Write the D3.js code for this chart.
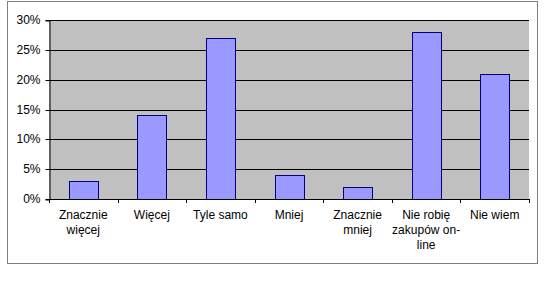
<!DOCTYPE html>
<html><head><meta charset="utf-8">
<script src="https://cdn.jsdelivr.net/npm/d3@7"></script>
<style>body{margin:0;background:#fff}svg{display:block}text{font-family:"Liberation Sans",Arial,sans-serif;font-size:12px;fill:#000}</style>
</head><body>
<script>
const categories = [["Znacznie","więcej"],["Więcej"],["Tyle samo"],["Mniej"],["Znacznie","mniej"],["Nie robię","zakupów on-","line"],["Nie wiem"]];
const values = [0.03,0.14,0.27,0.04,0.02,0.28,0.21];
const yTicks = [0,0.05,0.10,0.15,0.20,0.25,0.30];

const W=556,H=296;
const svg=d3.select("body").append("svg").attr("width",W).attr("height",H);
svg.append("rect").attr("x",7.5).attr("y",1.5).attr("width",530).attr("height",262).attr("fill","#fff").attr("stroke","#7f7f7f");

const L=49,R=529,T=20,B=199;
const x=d3.scaleBand().domain(d3.range(categories.length)).range([L,R]).paddingInner(0.58).paddingOuter(0.29);
const band=d3.scaleBand().domain(d3.range(categories.length)).range([L,R]);
const y=d3.scaleLinear().domain([0,0.30]).range([B,T]);

svg.append("rect").attr("x",L).attr("y",T).attr("width",R-L).attr("height",B-T).attr("fill","#c0c0c0");
svg.append("g").selectAll("line").data(yTicks.filter(d=>d>0)).join("line")
  .attr("x1",L).attr("x2",R).attr("y1",d=>Math.round(y(d))+0.5).attr("y2",d=>Math.round(y(d))+0.5).attr("stroke","#000");

svg.append("g").selectAll("rect").data(values).join("rect")
  .attr("x",(d,i)=>Math.round(x(i))+0.5).attr("width",Math.round(x.bandwidth()))
  .attr("y",d=>Math.round(y(d))+0.5).attr("height",d=>Math.round(B-y(d)))
  .attr("fill","#9999ff").attr("stroke","#000080");

const ya=svg.append("g").attr("transform",`translate(${L+0.5},0.5)`)
  .call(d3.axisLeft(y).tickValues(yTicks).tickFormat(d3.format(".0%")).tickSize(4).tickPadding(5));
ya.select(".domain").attr("stroke","#000");
ya.selectAll(".tick line").attr("stroke","#000");
ya.selectAll("text").attr("font-size",12).attr("font-family","Liberation Sans, Arial, sans-serif");
ya.selectAll(".tick").attr("transform",d=>`translate(0,${Math.round(y(d))})`);

svg.append("line").attr("x1",L).attr("x2",R+1).attr("y1",B+0.5).attr("y2",B+0.5).attr("stroke","#000");
svg.append("g").selectAll("line").data(d3.range(categories.length+1)).join("line")
  .attr("x1",i=>Math.round(i<categories.length?band(i):R)+0.5).attr("x2",i=>Math.round(i<categories.length?band(i):R)+0.5)
  .attr("y1",B).attr("y2",B+4).attr("stroke","#000");

const lab=svg.append("g").selectAll("text").data(categories).join("text")
  .attr("text-anchor","middle").attr("x",(d,i)=>band(i)+band.bandwidth()/2).attr("y",219);
lab.selectAll("tspan").data(d=>d).join("tspan")
  .attr("x",function(){return this.parentNode.getAttribute("x");})
  .attr("dy",(d,j)=>j===0?0:15).text(d=>d);
</script>
</body></html>
